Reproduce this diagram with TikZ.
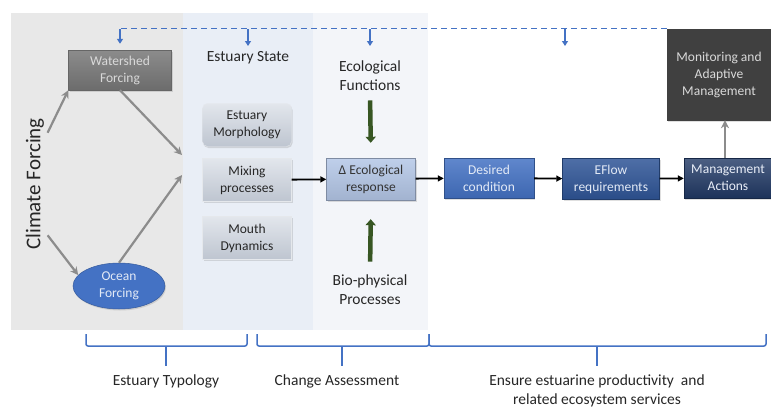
\documentclass[tikz,border=0pt]{standalone}
\usepackage{fontspec}
\setmainfont{Carlito}
\usetikzlibrary{
		calc,
		positioning,
		arrows.meta,
		shapes.geometric,
		shadows
	}
\tikzset{
		>=stealth
	}
\definecolor{panelGray}{HTML}{E8E8E8}
\definecolor{panelBlue}{HTML}{E9EEF6}
\definecolor{panelPale}{HTML}{F3F5F9}
\definecolor{stateTop}{HTML}{E2E6EC}
\definecolor{stateBot}{HTML}{BEC5D0}
\definecolor{respFill}{HTML}{B4C7E7}
\definecolor{msBlue}{HTML}{4472C4}
\definecolor{msMid}{HTML}{2F5597}
\definecolor{msNavy}{HTML}{203864}
\definecolor{msGreen}{HTML}{375623}
\definecolor{msDark}{HTML}{404040}
\definecolor{msGrey}{HTML}{7F7F7F}

\begin{document}
\begin{tikzpicture}[x=1pt, y={(0pt,-1pt)},
		box/.style={rectangle, align=center, inner sep=1pt, font=\fontsize{13.5}{17}\selectfont,
			drop shadow={opacity=0.25, shadow xshift=1pt, shadow yshift=-1.5pt}},
		statebox/.style={box, minimum width=89pt, minimum height=43pt, text=black!85,
			top color=stateTop, bottom color=stateBot, draw=white!60!stateBot, line width=0.4pt},
		label/.style={align=center, font=\fontsize{15.5}{19}\selectfont, text=black!85},
		grayarrow/.style={draw=black!45, line width=2.2pt, -{Stealth[length=8pt,width=8pt]}},
		flowarrow/.style={draw=black, line width=1.8pt, -{Triangle[length=6pt,width=6pt]}},
		greenarrow/.style={draw=msGreen, line width=4.5pt, -{Triangle[length=6pt,width=10pt]}},
		feedback/.style={draw=msBlue, line width=1.2pt, dash pattern=on 6pt off 4pt},
		fbtick/.style={draw=msBlue, line width=1.8pt, -{Triangle[length=5pt,width=6pt]}},
		bracket/.style={draw=msBlue, line width=1.5pt, rounded corners=2pt}]
	\useasboundingbox (0,0) rectangle (771,407);
	% background panels
	\fill[panelGray] (11,13) rectangle (183,330);
	\fill[panelBlue] (183,13) rectangle (313,330);
	\fill[panelPale] (313,13) rectangle (428,330);

	% forcing
	\node[box, minimum width=103pt, minimum height=40pt, top color=msGrey!90!white, bottom color=msGrey!85!black,
		draw=msGrey!80!black, text=white!85!black] (watershed) at (120,70) {Watershed\\Forcing};
	\node[box, ellipse, minimum width=92pt, minimum height=46pt, inner sep=0pt, fill=msBlue, draw=msBlue!80!black,
		line width=0.5pt, text=white!85!msBlue] (ocean) at (119,286) {Ocean\\Forcing};
	\node[rotate=90, font=\fontsize{21}{24}\selectfont, text=black!85] (climate) at (35,184) {Climate Forcing};
	\coordinate (mergeA) at (182,155);
	\coordinate (mergeB) at (182,175);
	\draw[grayarrow] ($(climate.south east)!0.13!(climate.south west)$) -- (watershed.south west);
	\draw[grayarrow] ($(climate.south west)!0.13!(climate.south east)$) -- (ocean.165);
	\draw[grayarrow] (watershed.south) -- (mergeA);
	\draw[grayarrow] (ocean.north) -- (mergeB);

	% estuary state
	\node[label] (state) at (248,58) {Estuary State};
	\node[statebox, rounded corners=5pt] (morph) at (247,125) {Estuary\\Morphology};
	\node[statebox] (mixing) at (247,180) {Mixing\\processes};
	\node[statebox] (mouth) at (247,238) {Mouth\\Dynamics};

	% ecological response
	\node[label] (ecofun) at (370,76) {Ecological\\Functions};
	\node[box, minimum width=89pt, minimum height=42pt, top color=respFill!85!white, bottom color=respFill!90!black,
		draw=respFill!70!black, line width=0.4pt, text=black!80] (resp) at (371,179) {Δ Ecological\\response};
	\node[label] (bio) at (370,290) {Bio-physical\\Processes};
	\draw[greenarrow, shorten <=6pt, shorten >=15pt] (ecofun.south) -- (resp.north);
	\draw[greenarrow, shorten <=10pt, shorten >=19pt] (bio.north) -- (resp.south);

	% management chain
	\node[box, minimum width=90pt, minimum height=40pt, top color=msBlue!85!white, bottom color=msBlue!90!black,
		draw=msBlue!70!black, text=white!85!msBlue] (desired) at (489,178) {Desired\\condition};
	\node[box, minimum width=97pt, minimum height=41pt, top color=msMid!85!white, bottom color=msMid!90!black,
		draw=msMid!70!black, text=white!85!msBlue] (eflow) at (611,179) {EFlow\\requirements};
	\node[box, minimum width=88pt, minimum height=40pt, top color=msNavy!80!white, bottom color=msNavy!90!black,
		draw=msNavy!70!black, text=white!88!msBlue] (mgmt) at (728,178) {Management\\Actions};
	\node[box, minimum width=104pt, minimum height=91pt, fill=msDark, draw=msDark,
		text=white!85!black] (monitor) at (719,74.5) {Monitoring and\\Adaptive\\Management};

	\draw[flowarrow] (mixing) -- (resp);
	\draw[flowarrow] (resp) -- (desired);
	\draw[flowarrow] (desired) -- (eflow);
	\draw[flowarrow] (eflow) -- (mgmt);
	\draw[grayarrow] ($(mgmt.north)+(-3,0)$) -- ($(mgmt.north |- monitor.south)+(-3,0)$);

	% feedback loop
	\coordinate (fbcorner) at (watershed.north |- monitor.north west);
	\draw[feedback] (monitor.north west) -- (fbcorner);
	\draw[fbtick] (fbcorner) -- ($(watershed.north)+(0,-6)$);
	\foreach \x/\n in {248/state, 370/func, 565/flow}{
		\coordinate (top-\n) at (\x,29);
		\coordinate (tip-\n) at (\x,46);
		\draw[fbtick] (top-\n) -- (tip-\n);
	}

	% brackets
	\foreach \l/\r/\m/\n in {86/247/166/typ, 257/429/342/chg, 429/766/597/ens}{
		\coordinate (bl-\n) at (\l,334);
		\coordinate (br-\n) at (\r,334);
		\coordinate (bm-\n) at (\m,366);
		\draw[bracket] (bl-\n) |- (br-\n |- 0,346) -- (br-\n);
		\draw[bracket] (bm-\n |- 0,346) -- (bm-\n);
	}
	\node[label] (typology) at (166,381) {Estuary Typology};
	\node[label] (change) at (337,381) {Change Assessment};
	\node[label] (ensure) at (597,391) {Ensure estuarine productivity\ \ and\\related ecosystem services};
\end{tikzpicture}
\end{document}
